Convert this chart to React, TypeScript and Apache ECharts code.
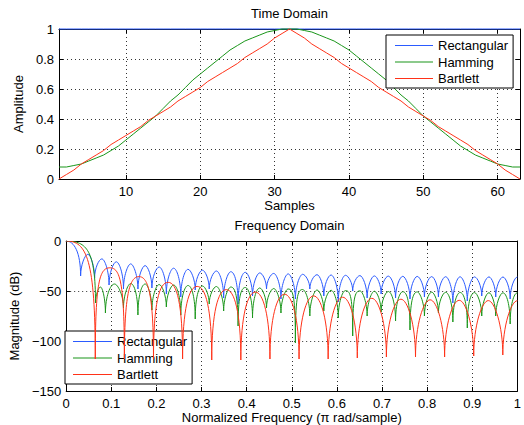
import { useEffect, useRef } from "react";
import * as echarts from "echarts";

const FONT = '"Liberation Sans", Arial, Helvetica, sans-serif';
const seriesNames = ["Rectangular", "Hamming", "Bartlett"];
const seriesColors = ["#2b5bff", "#1a961a", "#ff3218"];

// ---- Time domain: 63 samples (sample number = index + 1) ----
const rectangularTime = [
  1, 1, 1, 1, 1, 1, 1, 1, 1, 1, 1, 1, 1, 1, 1, 1, 1, 1, 1, 1, 1,
  1, 1, 1, 1, 1, 1, 1, 1, 1, 1, 1, 1, 1, 1, 1, 1, 1, 1, 1, 1, 1,
  1, 1, 1, 1, 1, 1, 1, 1, 1, 1, 1, 1, 1, 1, 1, 1, 1, 1, 1, 1, 1,
];
const hammingTime = [
  0.08, 0.08, 0.09, 0.1, 0.12, 0.14, 0.16, 0.19, 0.22, 0.26, 0.3, 0.34, 0.38, 0.42, 0.47, 0.52,
  0.56, 0.61, 0.66, 0.7, 0.74, 0.78, 0.82, 0.86, 0.89, 0.92, 0.94, 0.96, 0.98, 0.99, 1.0, 1.0,
  1.0, 0.99, 0.98, 0.96, 0.94, 0.92, 0.89, 0.86, 0.82, 0.78, 0.74, 0.7, 0.66, 0.61, 0.56,
  0.52, 0.47, 0.42, 0.38, 0.34, 0.3, 0.26, 0.22, 0.19, 0.16, 0.14, 0.12, 0.1, 0.09, 0.08, 0.08,
];
const bartlettTime = [
  0, 0.03, 0.06, 0.1, 0.13, 0.16, 0.19, 0.23, 0.26, 0.29, 0.32, 0.35, 0.39, 0.42, 0.45, 0.48,
  0.52, 0.55, 0.58, 0.61, 0.65, 0.68, 0.71, 0.74, 0.77, 0.81, 0.84, 0.87, 0.9, 0.94, 0.97, 1.0,
  0.97, 0.94, 0.9, 0.87, 0.84, 0.81, 0.77, 0.74, 0.71, 0.68, 0.65, 0.61, 0.58, 0.55, 0.52,
  0.48, 0.45, 0.42, 0.39, 0.35, 0.32, 0.29, 0.26, 0.23, 0.19, 0.16, 0.13, 0.1, 0.06, 0.03, 0,
];

// ---- Frequency domain: lobe turning points (peak, null, peak, null, ...) ----
const rectangularFreq = [
  0, 0.032, 0.048, 0.063, 0.079, 0.095, 0.111, 0.127, 0.143, 0.159, 0.175, 0.19, 0.206, 0.222,
  0.238, 0.254, 0.27, 0.286, 0.302, 0.317, 0.333, 0.349, 0.365, 0.381, 0.397, 0.413, 0.429,
  0.444, 0.46, 0.476, 0.492, 0.508, 0.524, 0.54, 0.556, 0.571, 0.587, 0.603, 0.619, 0.635,
  0.651, 0.667, 0.683, 0.698, 0.714, 0.73, 0.746, 0.762, 0.778, 0.794, 0.81, 0.825, 0.841,
  0.857, 0.873, 0.889, 0.905, 0.921, 0.937, 0.952, 0.968, 0.984, 1,
];
const rectangularDb = [
  0, -35, -13.3, -37, -17.9, -44, -20.8, -48, -22.9, -48, -24.6, -47, -26.0, -53, -27.2, -56,
  -28.3, -49, -29.2, -48, -30.0, -57, -30.7, -63, -31.3, -55, -31.9, -48, -32.4, -58, -32.9,
  -58, -33.3, -48, -33.7, -55, -34.0, -61, -34.3, -50, -34.6, -57, -34.9, -53, -35.1, -57,
  -35.3, -58, -35.4, -56, -35.6, -56, -35.7, -62, -35.8, -60, -35.9, -55, -35.9, -56, -36.0,
  -58, -36.0,
];
const hammingFreq = [
  0, 0.065, 0.076, 0.087, 0.107, 0.127, 0.143, 0.159, 0.175, 0.19, 0.206, 0.222, 0.238, 0.254,
  0.27, 0.286, 0.302, 0.317, 0.333, 0.349, 0.365, 0.381, 0.397, 0.413, 0.429, 0.444, 0.46,
  0.476, 0.492, 0.508, 0.524, 0.54, 0.556, 0.571, 0.587, 0.603, 0.619, 0.635, 0.651, 0.667,
  0.683, 0.698, 0.714, 0.73, 0.746, 0.762, 0.778, 0.794, 0.81, 0.825, 0.841, 0.857, 0.873,
  0.889, 0.905, 0.921, 0.937, 0.952, 0.968, 0.984, 1,
];
const hammingDb = [
  0, -62, -46, -72, -43, -67, -42.5, -74, -43, -69, -43.5, -66, -44, -74, -44.5, -78, -45, -63,
  -45.5, -70, -46, -85, -46.5, -77, -47, -67, -47.5, -72, -48, -102, -48.5, -75, -49, -70,
  -49.3, -77, -49.6, -95, -49.9, -75, -50.2, -71, -50.5, -80, -50.7, -89, -50.9, -75, -51.1,
  -72, -51.3, -81, -51.5, -87, -51.6, -75, -51.7, -75, -51.8, -83, -51.8,
];
const bartlettFreq = [
  0, 0.0645, 0.0968, 0.129, 0.1613, 0.1935, 0.2258, 0.258, 0.2903, 0.3226, 0.3548, 0.3871,
  0.4194, 0.4516, 0.4839, 0.5161, 0.5484, 0.5806, 0.6129, 0.6452, 0.6774, 0.7097, 0.7419,
  0.7742, 0.8065, 0.8387, 0.871, 0.9032, 0.9355, 0.9677, 1,
];
const bartlettDb = [
  0, -118, -26.8, -118, -35.6, -118, -41.3, -118, -45.4, -119, -48.6, -119, -51.1, -118, -53.2,
  -118, -54.9, -118, -56.2, -117, -57.3, -116, -58.2, -116, -58.8, -116, -59.3, -115, -59.6,
  -114, -59.7,
];

const timeSeries = [rectangularTime, hammingTime, bartlettTime];
const freqSeries = [
  { f: rectangularFreq, db: rectangularDb, m: 1 },
  { f: hammingFreq, db: hammingDb, m: 1 },
  { f: bartlettFreq, db: bartlettDb, m: 2 },
];

const toXY = (vals: number[]) => vals.map((v, i) => [i + 1, v]);
const toSegments = (f: number[], db: number[]) =>
  f.slice(1).map((x, i) => [f[i], db[i], x, db[i + 1]]);

function lobeRenderer(color: string, m: number) {
  return (_params: any, api: any) => {
    const v0 = api.value(1);
    const v1 = api.value(3);
    const p0 = api.coord([api.value(0), v0]);
    const p1 = api.coord([api.value(2), v1]);
    const descending = v0 > v1;
    const peak = descending ? p0 : p1;
    const nul = descending ? p1 : p0;
    const s = Math.abs(v0 - v1) / m;
    const r = Math.min(1, Math.max(0, (s - 25) / 20));
    const a = 0.4 + 0.3 * r;
    const b = 0.5 - 0.35 * r;
    const cPeak = [peak[0] + a * (nul[0] - peak[0]), peak[1]];
    const cNull = [nul[0], peak[1] + b * (nul[1] - peak[1])];
    const pts = descending ? [peak, cPeak, cNull, nul] : [nul, cNull, cPeak, peak];
    return {
      type: "bezierCurve",
      silent: true,
      shape: {
        x1: pts[0][0], y1: pts[0][1],
        cpx1: pts[1][0], cpy1: pts[1][1],
        cpx2: pts[2][0], cpy2: pts[2][1],
        x2: pts[3][0], y2: pts[3][1],
      },
      style: { stroke: color, fill: null, lineWidth: 1 },
    };
  };
}

const labelStyle = { color: "#000", fontSize: 13, fontFamily: FONT };
const axisLine = { show: true, onZero: false, lineStyle: { color: "#000", width: 1 } };
const tickInside = { show: true, inside: true, length: 4, lineStyle: { color: "#000", width: 1 } };
const gridLine = { show: true, lineStyle: { color: "#333", type: [1, 3], width: 1 } };
const minus = (v: number) => (v < 0 ? "\u2212" + String(-v) : String(v));

function mirrorAxis(gridIndex: number, position: string, min: number, max: number, interval?: number) {
  return {
    type: "value", gridIndex, position, min, max, interval,
    axisLine, axisTick: tickInside, axisLabel: { show: false }, splitLine: { show: false },
  };
}

const legendData = seriesNames.map((name, i) => ({
  name,
  icon: "rect",
  itemStyle: { color: seriesColors[i], borderWidth: 0, opacity: 1 },
}));

function legendAt(left: number, top: number, padLeft: number, itemWidth: number) {
  return {
    data: legendData, orient: "vertical", left, top,
    backgroundColor: "#fff", borderColor: "#000", borderWidth: 1, borderRadius: 0,
    padding: [4, 5, 3, padLeft], itemGap: 3.5, itemWidth, itemHeight: 1.2,
    textStyle: labelStyle, selectedMode: false,
  };
}

function buildOption() {
  return {
    animation: false,
    backgroundColor: "#fff",
    textStyle: { fontFamily: FONT },
    grid: [
      { left: 59, top: 29, width: 461, height: 150 },
      { left: 59, top: 241, width: 461, height: 150 },
    ],
    graphic: [
      { type: "text", x: 289.5, y: 13.5, style: { text: "Time Domain", align: "center", verticalAlign: "middle", fontSize: 13, fontFamily: FONT, fill: "#000" } },
      { type: "text", x: 289.5, y: 225.5, style: { text: "Frequency Domain", align: "center", verticalAlign: "middle", fontSize: 13, fontFamily: FONT, fill: "#000" } },
    ],
    xAxis: [
      {
        type: "value", gridIndex: 0, position: "bottom", min: 1, max: 63,
        axisLine, axisTick: tickInside, splitLine: gridLine,
        axisLabel: { ...labelStyle, margin: 6, showMinLabel: false, showMaxLabel: false },
        name: "Samples", nameLocation: "middle", nameGap: 20, nameTextStyle: labelStyle,
      },
      mirrorAxis(0, "top", 1, 63),
      {
        type: "value", gridIndex: 1, position: "bottom", min: 0, max: 1, interval: 0.1,
        axisLine, axisTick: tickInside, splitLine: gridLine,
        axisLabel: { ...labelStyle, margin: 6 },
        name: "Normalized Frequency (\u03c0 rad/sample)", nameLocation: "middle", nameGap: 20,
        nameTextStyle: labelStyle,
      },
      mirrorAxis(1, "top", 0, 1, 0.1),
    ],
    yAxis: [
      {
        type: "value", gridIndex: 0, position: "left", min: 0, max: 1, interval: 0.2,
        axisLine, axisTick: tickInside, splitLine: gridLine,
        axisLabel: { ...labelStyle, margin: 5 },
        name: "Amplitude", nameLocation: "middle", nameGap: 28, nameTextStyle: labelStyle,
      },
      mirrorAxis(0, "right", 0, 1, 0.2),
      {
        type: "value", gridIndex: 1, position: "left", min: -150, max: 0, interval: 50,
        axisLine, axisTick: tickInside, splitLine: gridLine,
        axisLabel: { ...labelStyle, margin: 5, formatter: minus },
        name: "Magnitude (dB)", nameLocation: "middle", nameGap: 40, nameTextStyle: labelStyle,
      },
      mirrorAxis(1, "right", -150, 0, 50),
    ],
    legend: [legendAt(386, 35, 9, 38), legendAt(65, 331, 8, 39)],
    series: [
      ...timeSeries.map((vals, i) => ({
        type: "line", name: seriesNames[i], xAxisIndex: 0, yAxisIndex: 0,
        data: toXY(vals), symbol: "none", showSymbol: false, clip: false,
        lineStyle: { color: seriesColors[i], width: 1 }, itemStyle: { color: seriesColors[i] },
        z: 2 + i,
      })),
      ...freqSeries.map((s, i) => ({
        type: "custom", name: seriesNames[i], xAxisIndex: 2, yAxisIndex: 2,
        data: toSegments(s.f, s.db), encode: { x: [0, 2], y: [1, 3] },
        renderItem: lobeRenderer(seriesColors[i], s.m), clip: true,
        itemStyle: { color: seriesColors[i] }, z: 2 + i,
      })),
    ],
  };
}

export default function App() {
  const ref = useRef<HTMLDivElement>(null);
  useEffect(() => {
    if (!ref.current) return;
    const chart = echarts.init(ref.current, null, { renderer: "svg" });
    chart.setOption(buildOption() as any);
    return () => chart.dispose();
  }, []);
  return (
    <div
      ref={ref}
      style={{ position: "fixed", left: 0, top: 0, width: 524, height: 425, background: "#fff" }}
    />
  );
}
